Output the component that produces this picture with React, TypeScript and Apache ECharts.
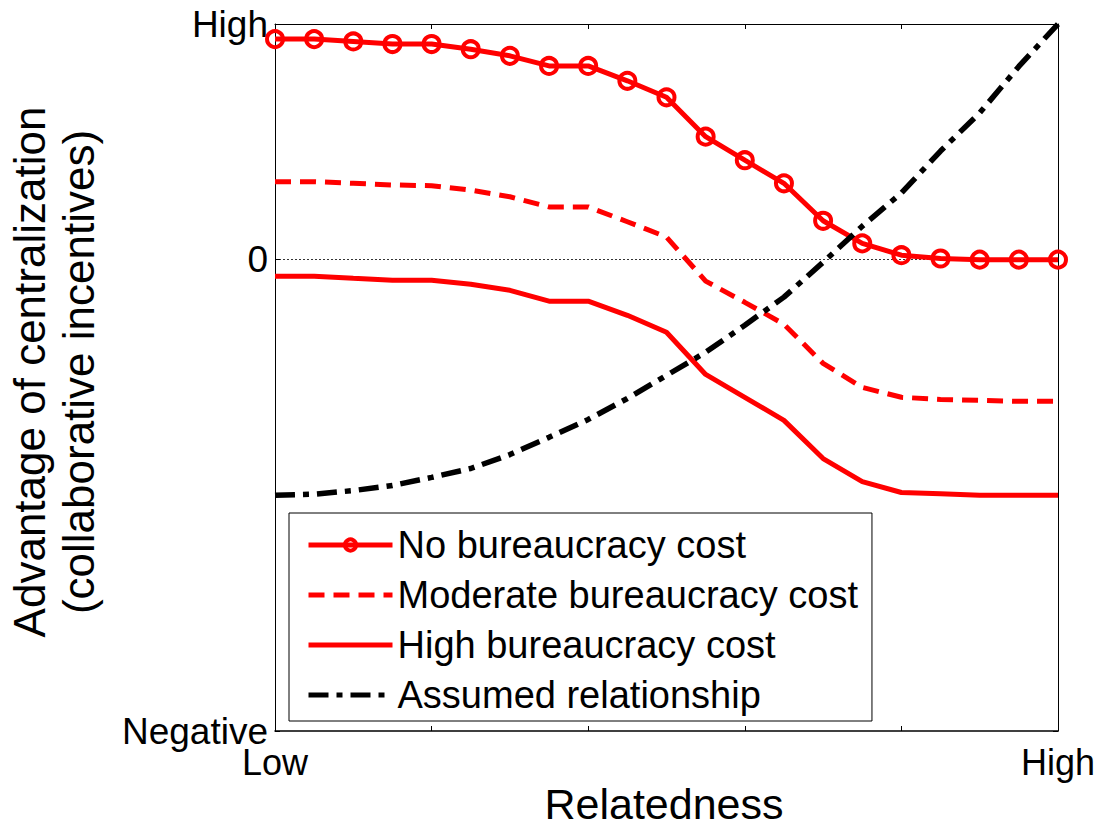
import React, { useEffect, useRef } from "react";
import * as echarts from "echarts";

// ---- data ----
const relatedness = [0, 0.05, 0.1, 0.15, 0.2, 0.25, 0.3, 0.35, 0.4, 0.45, 0.5, 0.55, 0.6, 0.65, 0.7, 0.75, 0.8, 0.85, 0.9, 0.95, 1];
const noCost = [0.936, 0.936, 0.926, 0.915, 0.915, 0.893, 0.865, 0.822, 0.822, 0.759, 0.689, 0.522, 0.422, 0.324, 0.165, 0.069, 0.019, 0.005, 0, 0, 0];
const moderateCost = [0.331, 0.331, 0.324, 0.317, 0.314, 0.295, 0.267, 0.224, 0.224, 0.161, 0.096, -0.091, -0.181, -0.274, -0.44, -0.542, -0.584, -0.593, -0.597, -0.601, -0.601];
const highCost = [-0.07, -0.07, -0.079, -0.087, -0.087, -0.104, -0.13, -0.176, -0.176, -0.236, -0.308, -0.487, -0.584, -0.682, -0.844, -0.942, -0.988, -0.993, -1, -1, -1];
const assumed = [-1, -0.995, -0.98, -0.958, -0.924, -0.886, -0.827, -0.754, -0.678, -0.589, -0.491, -0.393, -0.278, -0.159, -0.011, 0.142, 0.283, 0.461, 0.623, 0.82, 1];

const seriesNames = ["No bureaucracy cost", "Moderate bureaucracy cost", "High bureaucracy cost", "Assumed relationship"];
const yTickValues = [-2, 0, 1];
const yTickLabels = ["Negative", "0", "High"];
const xTickValues = [0, 1];
const xTickLabels = ["Low", "High"];
const xTitle = "Relatedness";
const yTitle = ["Advantage of centralization", "(collaborative incentives)"];

const FONT = "'Liberation Sans', Arial, sans-serif";

const pairs = (ys: number[]) => ys.map((y, i) => [relatedness[i], y]);

export default function App() {
  const ref = useRef<HTMLDivElement>(null);
  useEffect(() => {
    document.body.style.margin = "0";
    if (!ref.current) return;
    const chart = echarts.init(ref.current, undefined, { renderer: "svg" });
    const yLab = (v: number) => {
      const k = yTickValues.indexOf(v);
      return k >= 0 ? yTickLabels[k] : "";
    };
    const xLab = (v: number) => {
      const k = xTickValues.indexOf(v);
      return k >= 0 ? xTickLabels[k] : "";
    };
    const hidden = { opacity: 0 };
    const option: any = {
      animation: false,
      backgroundColor: "#fff",
      textStyle: { fontFamily: FONT },
      grid: { left: 275, right: 45, top: 24, bottom: 97, containLabel: false },
      xAxis: [
        {
          type: "value", min: 0, max: 1, interval: 0.2, position: "bottom",
          axisLine: { show: true, onZero: false, lineStyle: { color: "#000", width: 1.5 } },
          axisTick: { show: true, inside: true, length: 5, lineStyle: { color: "#000", width: 1 } },
          axisLabel: { show: true, formatter: xLab, fontSize: 36, lineHeight: 30, color: "#000", fontFamily: FONT, margin: 16, showMinLabel: true, showMaxLabel: true },
          splitLine: { show: false },
        },
        {
          type: "value", min: 0, max: 1, interval: 0.2, position: "top",
          axisLine: { show: true, onZero: false, lineStyle: { color: "#000", width: 1 } },
          axisTick: { show: true, inside: true, length: 5, lineStyle: { color: "#000", width: 1 } },
          axisLabel: { show: false },
          splitLine: { show: false },
        },
      ],
      yAxis: [
        {
          type: "value", min: -2, max: 1, interval: 1, position: "left",
          axisLine: { show: true, onZero: false, lineStyle: { color: "#000", width: 1 } },
          axisTick: { show: true, inside: true, length: 5, customValues: yTickValues, lineStyle: { color: "#000", width: 1 } },
          axisLabel: { show: true, formatter: yLab, customValues: yTickValues, fontSize: 37, lineHeight: 28, color: "#000", fontFamily: FONT, margin: 7 },
          splitLine: { show: false },
        },
        {
          type: "value", min: -2, max: 1, interval: 1, position: "right",
          axisLine: { show: true, onZero: false, lineStyle: { color: "#000", width: 1 } },
          axisTick: { show: true, inside: true, length: 5, customValues: yTickValues, lineStyle: { color: "#000", width: 1 } },
          axisLabel: { show: false },
          splitLine: { show: false },
        },
      ],
      legend: {
        show: true,
        orient: "vertical",
        left: 289,
        top: 513,
        data: [
          { name: seriesNames[0], itemStyle: { color: "rgba(255,255,255,0)", borderColor: "#ff0000", borderWidth: 4 } },
          { name: seriesNames[1], itemStyle: hidden },
          { name: seriesNames[2], itemStyle: hidden },
          { name: seriesNames[3], itemStyle: hidden },
        ],
        itemWidth: 84,
        itemHeight: 14,
        itemGap: 10,
        padding: [12, 14, 6, 17],
        backgroundColor: "#fff",
        borderColor: "#000",
        borderWidth: 1,
        borderRadius: 0,
        lineStyle: { width: 5 },
        textStyle: { fontSize: 38, color: "#000", fontFamily: FONT, lineHeight: 40 },
        selectedMode: false,
      },
      graphic: [
        {
          type: "text",
          x: 54,
          y: 372,
          rotation: Math.PI / 2,
          style: {
            text: yTitle.join("\n"),
            font: `44px ${FONT}`,
            fill: "#000",
            align: "center",
            verticalAlign: "middle",
            lineHeight: 49,
          },
        },
        {
          type: "text",
          x: 664,
          y: 804,
          style: {
            text: xTitle,
            font: `43px ${FONT}`,
            fill: "#000",
            align: "center",
            verticalAlign: "middle",
          },
        },
      ],
      series: [
        {
          name: seriesNames[0],
          type: "line",
          data: pairs(noCost),
          symbol: "circle",
          symbolSize: 16,
          showSymbol: true,
          lineStyle: { color: "#ff0000", width: 5, type: "solid" },
          itemStyle: { color: "rgba(255,255,255,0)", borderColor: "#ff0000", borderWidth: 4 },
          z: 3,
          markLine: {
            silent: true,
            symbol: "none",
            label: { show: false },
            lineStyle: { color: "#000", width: 0.8, type: [2, 2] },
            data: [{ yAxis: 0 }],
            z: 1,
          },
        },
        {
          name: seriesNames[1],
          type: "line",
          data: pairs(moderateCost),
          symbol: "none",
          lineStyle: { color: "#ff0000", width: 5, type: [16, 9] },
          itemStyle: { color: "#ff0000" },
          z: 3,
        },
        {
          name: seriesNames[2],
          type: "line",
          data: pairs(highCost),
          symbol: "none",
          lineStyle: { color: "#ff0000", width: 5, type: "solid" },
          itemStyle: { color: "#ff0000" },
          z: 3,
        },
        {
          name: seriesNames[3],
          type: "line",
          data: pairs(assumed),
          symbol: "none",
          lineStyle: { color: "#000", width: 5.5, type: [20, 8, 6, 8] },
          itemStyle: { color: "#000" },
          z: 4,
        },
      ],
    };
    chart.setOption(option);
    return () => chart.dispose();
  }, []);
  return <div ref={ref} style={{ width: 1103, height: 828 }} />;
}
